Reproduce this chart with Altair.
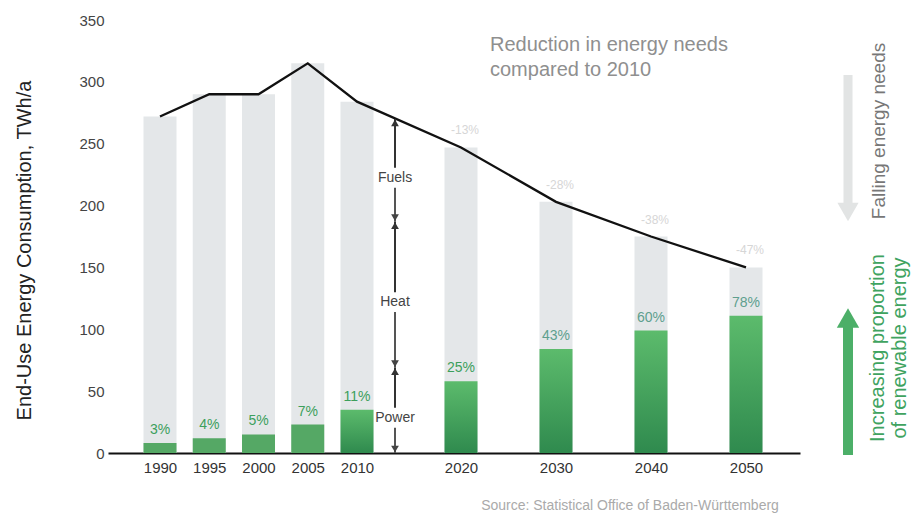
import altair as alt
import pandas as pd

years = [1990, 1995, 2000, 2005, 2010, 2020, 2030, 2040, 2050]
total = [272, 290, 290, 315, 284, 247, 203, 175, 150]
renewable = [8, 12, 15, 23, 35, 58, 84, 99, 111]
share = ["3%", "4%", "5%", "7%", "11%", "25%", "43%", "60%", "78%"]
reduction = ["", "", "", "", "", "-13%", "-28%", "-38%", "-47%"]

# 2010 breakdown shown by the arrows next to the 2010 bar
seg_names = ["Power", "Heat", "Fuels"]
seg_lo = [0, 69, 187]
seg_hi = [69, 187, 270]

df = pd.DataFrame({"year": years, "total": total, "renewable": renewable,
                   "share": share, "reduction": reduction})
seg = pd.DataFrame({"name": seg_names, "lo": seg_lo, "hi": seg_hi})
one = pd.DataFrame({"a": [0]})

FONT = "Liberation Sans"
xscale = alt.Scale(domain=[1984.7, 1990, 2010, 2020, 2050, 2055.5],
                   range=[0, 52, 249, 353, 638, 692], nice=False, zero=False)
yscale = alt.Scale(domain=[0, 350], nice=False)
xaxis = alt.Axis(values=years, format="d", title=None, ticks=False, grid=False,
                 domainColor="#111", domainWidth=2, labelFontSize=15,
                 labelColor="#333", labelPadding=7, labelFont=FONT)
yaxis = alt.Axis(values=[0, 50, 100, 150, 200, 250, 300, 350], ticks=False,
                 grid=False, domain=False, labelFontSize=15, labelColor="#444",
                 labelPadding=4, labelFont=FONT,
                 title="End-Use Energy Consumption, TWh/a", titleFontSize=20,
                 titleFont=FONT, titleFontWeight="normal", titleColor="#222",
                 titlePadding=44, titleY=230)

X = alt.X("year:Q", scale=xscale, axis=xaxis)
base = alt.Chart(df).encode(x=X)

def Y(f):
    return alt.Y(f, type="quantitative", scale=yscale, axis=yaxis)

grey = base.mark_bar(size=33, color="#e4e7e9").encode(y=Y("total"))
green_early = base.transform_filter("datum.year < 2010").mark_bar(
    size=33, color="#55a865").encode(y=Y("renewable"))
grad = alt.Gradient(gradient="linear",
                    stops=[alt.GradientStop(color="#5cbb6c", offset=0),
                           alt.GradientStop(color="#2f8a4e", offset=1)],
                    x1=0, x2=0, y1=0, y2=1)
green_late = base.transform_filter("datum.year >= 2010").mark_bar(
    size=33, color=grad).encode(y=Y("renewable"))
line = base.mark_line(color="#111", strokeWidth=2.3).encode(y=Y("total"))
share_txt = base.mark_text(dy=-13, fontSize=14, font=FONT).encode(
    y=Y("renewable"), text="share:N",
    color=alt.condition("datum.year >= 2030", alt.value("#5e9f8e"),
                        alt.value("#3c9f5c")))
red_txt = base.transform_filter("datum.year >= 2020").mark_text(
    dy=-17, dx=4, fontSize=12, color="#d6d6d6", font=FONT).encode(
    y=Y("total"), text="reduction:N")

# arrows by the 2010 bar
sbase = alt.Chart(seg).transform_calculate(mid="(datum.lo + datum.hi) / 2 - 6")
ax = alt.value(287)
r1 = sbase.transform_calculate(m1="datum.mid - 8").mark_rule(
    color="#555", strokeWidth=2).encode(x=ax, y=Y("lo"), y2="m1:Q")
r2 = sbase.transform_calculate(m2="datum.mid + 8").mark_rule(
    color="#333", strokeWidth=2).encode(x=ax, y=Y("m2"), y2="hi:Q")
hu = sbase.mark_point(shape="triangle-up", filled=True, size=60, color="#333",
                      opacity=1, yOffset=4).encode(x=ax, y=Y("hi"))
hd = sbase.mark_point(shape="triangle-down", filled=True, size=60, color="#444",
                      opacity=1, yOffset=-4).encode(x=ax, y=Y("lo"))
stxt = sbase.mark_text(fontSize=14, color="#444", font=FONT).encode(
    x=ax, y=Y("mid"), text="name:N")

# annotations
hdr = alt.Chart(one).mark_text(
    text=["Reduction in energy needs", "compared to 2010"], align="left",
    baseline="middle", lineHeight=25, fontSize=20, color="#8f8f8f", font=FONT
).encode(x=alt.value(382), y=alt.value(25))
src = alt.Chart(one).mark_text(
    text="Source:  Statistical Office of Baden-Württemberg", fontSize=14,
    color="#aaaaaa", font=FONT).encode(x=alt.value(522), y=alt.value(486))

gshaft = alt.Chart(one).mark_rule(color="#e2e4e4", strokeWidth=9).encode(
    x=alt.value(740), y=alt.value(55), y2=alt.value(185))
ghead = alt.Chart(one).mark_point(shape="triangle-down", filled=True, size=450,
                                  color="#e2e4e4", opacity=1).encode(
    x=alt.value(740), y=alt.value(192))
vshaft = alt.Chart(one).mark_rule(color="#4caf68", strokeWidth=10).encode(
    x=alt.value(740), y=alt.value(435), y2=alt.value(305))
vhead = alt.Chart(one).mark_point(shape="triangle-up", filled=True, size=500,
                                  color="#4caf68", opacity=1).encode(
    x=alt.value(740), y=alt.value(298))
ftxt = alt.Chart(one).mark_text(text="Falling energy needs", angle=270,
                                fontSize=19, color="#777", font=FONT).encode(
    x=alt.value(771), y=alt.value(111))
itxt1 = alt.Chart(one).mark_text(text="Increasing proportion", angle=270,
                                 fontSize=20, color="#3fa35f", font=FONT).encode(
    x=alt.value(770), y=alt.value(328))
itxt2 = alt.Chart(one).mark_text(text="of renewable energy", angle=270,
                                 fontSize=20, color="#3fa35f", font=FONT).encode(
    x=alt.value(792), y=alt.value(328))

chart = alt.layer(grey, green_early, green_late, line, share_txt, red_txt,
                  r1, r2, hu, hd, stxt, hdr, src, gshaft, ghead, vshaft, vhead,
                  ftxt, itxt1, itxt2).properties(
    width=692, height=433,
    padding={"left": 108, "top": 20, "right": 123, "bottom": 64},
    autosize=alt.AutoSizeParams(type="none"),
    background="white",
).configure_view(stroke=None)

chart.save("out.html", embed_options={"renderer": "svg", "actions": False})
